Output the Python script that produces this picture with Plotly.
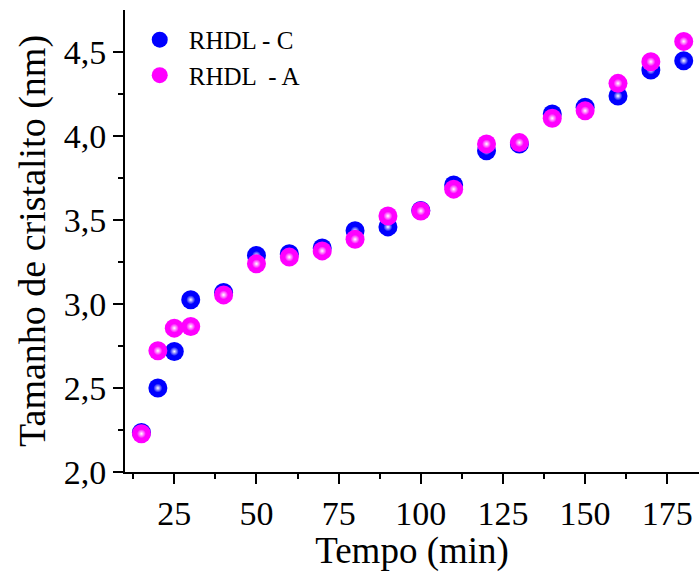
import plotly.graph_objects as go

# Reaction time (min)
tempo = [15, 20, 25, 30, 40, 50, 60, 70, 80, 90, 100, 110, 120, 130, 140, 150, 160, 170, 180]

# Crystallite size (nm) for each sample
rhdl_c = [2.235, 2.50, 2.718, 3.026, 3.069, 3.29, 3.30, 3.335, 3.437, 3.46,
          3.558, 3.71, 3.914, 3.954, 4.133, 4.173, 4.24, 4.394, 4.45]
rhdl_a = [2.228, 2.722, 2.857, 2.867, 3.055, 3.24, 3.28, 3.317, 3.386, 3.525,
          3.555, 3.685, 3.954, 3.962, 4.107, 4.152, 4.315, 4.444, 4.565]

series = [
    ("RHDL - C", rhdl_c, "#0000ff"),
    ("RHDL  - A", rhdl_a, "#ff00ff"),
]

FONT = "Liberation Serif, Times New Roman, serif"

fig = go.Figure()
for name, vals, col in series:
    # solid ball
    fig.add_trace(go.Scatter(
        x=tempo, y=vals, mode="markers", name=name,
        marker=dict(size=19, color=col, line=dict(width=0)),
    ))
    # glossy highlight on each ball
    fig.add_trace(go.Scatter(
        x=tempo, y=vals, mode="markers", showlegend=False, hoverinfo="skip",
        marker=dict(size=9, color=col, line=dict(width=0),
                    gradient=dict(type="radial", color="#ffffff")),
    ))

axis_common = dict(
    showgrid=False, zeroline=False, showline=True, linecolor="black", linewidth=2,
    ticks="outside", ticklen=10, tickwidth=2, tickcolor="black",
    tickfont=dict(family=FONT, size=34, color="black"),
    mirror=False,
)

fig.update_layout(
    width=699, height=572,
    margin=dict(l=125, r=0, t=10, b=100),
    paper_bgcolor="white", plot_bgcolor="white",
    separators=",.",
    font=dict(family=FONT, color="black"),
    showlegend=True,
    legend=dict(
        x=0.01, y=0.985, xanchor="left", yanchor="top",
        bgcolor="rgba(0,0,0,0)", font=dict(family=FONT, size=25, color="black"),
        itemwidth=48, tracegroupgap=0,
    ),
    xaxis=dict(
        **axis_common,
        range=[10, 184.65],
        tickvals=[25, 50, 75, 100, 125, 150, 175],
        minor=dict(ticks="outside", ticklen=5, tickwidth=2, tickcolor="black",
                   tickvals=[12.5, 37.5, 62.5, 87.5, 112.5, 137.5, 162.5]),
        title=dict(text="Tempo (min)", font=dict(family=FONT, size=37, color="black"),
                   standoff=8),
    ),
    yaxis=dict(
        **axis_common,
        range=[2.0, 4.752],
        tickvals=[2.0, 2.5, 3.0, 3.5, 4.0, 4.5],
        tickformat=".1f",
        minor=dict(ticks="outside", ticklen=5, tickwidth=2, tickcolor="black",
                   tickvals=[2.25, 2.75, 3.25, 3.75, 4.25]),
        title=dict(text="Tamanho de cristalito (nm)",
                   font=dict(family=FONT, size=38, color="black"), standoff=6),
    ),
)

fig.write_html("out.html")
